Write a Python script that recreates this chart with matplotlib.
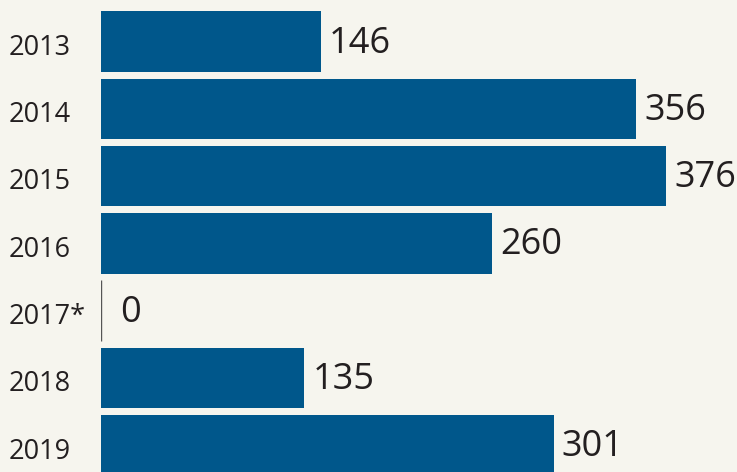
import matplotlib.pyplot as plt

# 연도별 값
years = ['2013', '2014', '2015', '2016', '2017*', '2018', '2019']
values = [146, 356, 376, 260, 0, 135, 301]

bg = '#f6f5ee'
bar_color = '#00578b'
text_color = '#231f20'

fig = plt.figure(figsize=(7.37, 4.72), dpi=100, facecolor=bg)
ax = fig.add_axes([101 / 737, 0, 636 / 737, 1])
ax.set_facecolor(bg)

pos = list(range(len(years)))
ax.barh(pos, values, height=0.9, color=bar_color, linewidth=0)

for y, v in zip(pos, values):
    if v == 0:
        ax.vlines(0, y - 0.45, y + 0.45, color='#555555', linewidth=1)
        dx = 14
    else:
        dx = 6
    ax.annotate(str(v), xy=(v, y), xytext=(dx, -1.5), textcoords='offset points',
                va='center', ha='left', fontsize=26, color=text_color,
                family='Open Sans')
    # 연도 라벨 (축 바깥 왼쪽)
    ax.annotate(years[y], xy=(0, y), xycoords=('axes fraction', 'data'),
                xytext=(-92 * 0.72, -4.5), textcoords='offset points',
                va='center', ha='left', fontsize=19.5, color=text_color,
                family='Open Sans')

ax.set_xlim(0, 423)
ax.set_ylim(6.397, -0.617)
ax.axis('off')

fig.savefig('out.png', dpi=100, facecolor=bg)
